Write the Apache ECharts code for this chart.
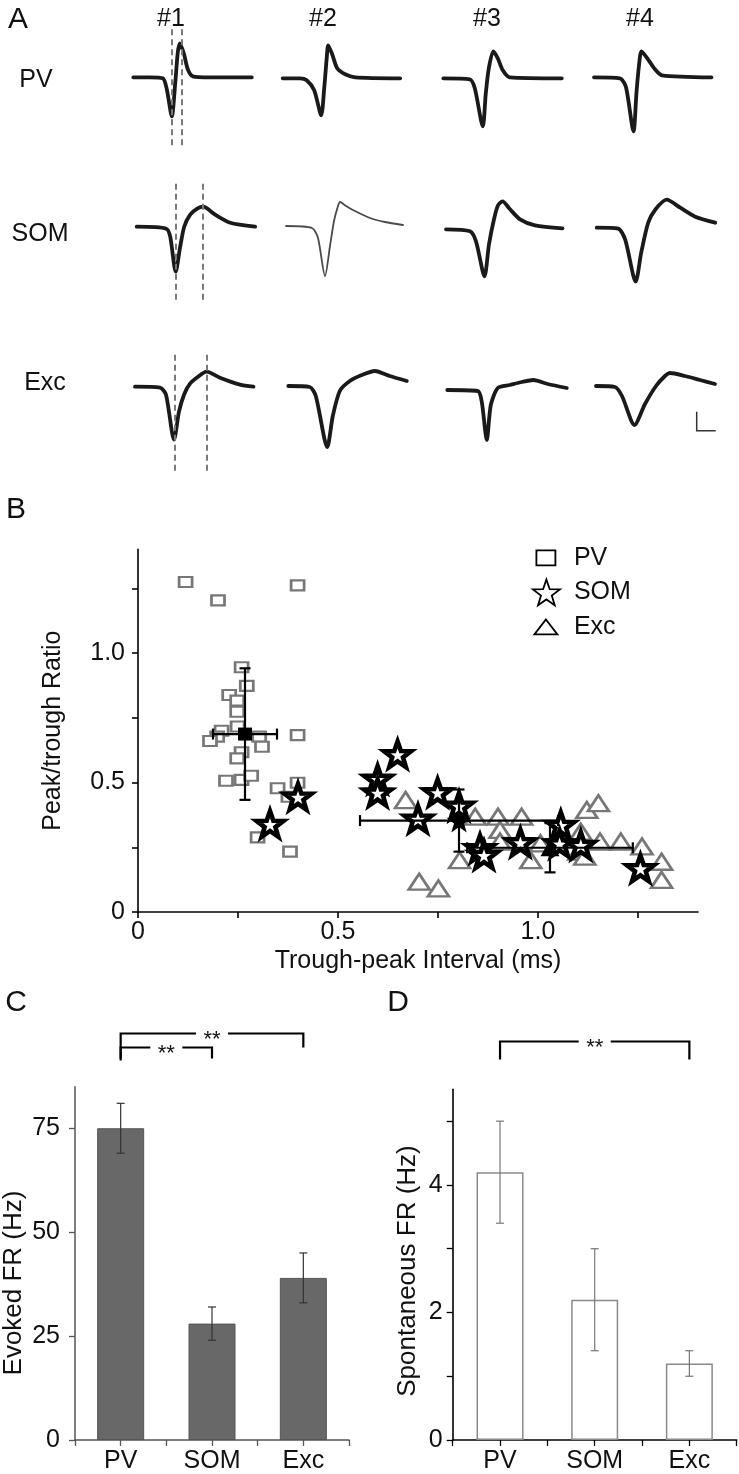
<!DOCTYPE html>
<html><head><meta charset="utf-8">
<script src="https://cdn.jsdelivr.net/npm/echarts@6/dist/echarts.min.js"></script>
<style>html,body{margin:0;padding:0;background:#fff}#c{width:739px;height:1474px}</style>
</head><body><div id="c"></div>
<script>
// ================= DATA =================
// Panel A: waveform key samples [time (ms), amplitude (a.u.)]
const waveColumns = ['#1', '#2', '#3', '#4'];
const waveRows = ['PV', 'SOM', 'Exc'];
const wavePV1 = [[0,0],[0.33,0],[0.59,-1],[0.67,-12],[0.77,-39],[0.84,-5],[0.89,25],[0.93,34],[1.01,24],[1.09,8],[1.19,1],[1.53,0],[2.37,0]];
const wavePV2 = [[0,0],[0.35,0],[0.48,-2],[0.63,-12],[0.77,-37],[0.83,-10],[0.88,20],[0.91,33],[0.99,24],[1.09,10],[1.25,4],[1.45,1],[2.35,0]];
const wavePV3 = [[0,0],[0.53,-1],[0.63,-10],[0.79,-48],[0.85,-15],[0.91,10],[1.0,27],[1.09,20],[1.19,8],[1.33,1],[2.37,0]];
const wavePV4 = [[0,0],[0.52,-1],[0.64,-10],[0.79,-54],[0.85,-15],[0.9,12],[0.95,26],[1.08,18],[1.22,8],[1.36,2],[2.35,0]];
const waveSOM1 = [[0,0],[0.59,-2],[0.67,-10],[0.78,-45],[0.87,-20],[0.95,0],[1.07,12],[1.21,18],[1.33,20],[1.57,12],[1.87,4],[2.37,0]];
const waveSOM2 = [[0,0],[0.52,-2],[0.64,-12],[0.78,-50],[0.88,-20],[0.96,5],[1.04,20],[1.08,24],[1.2,20],[1.34,16],[1.68,8],[1.98,4],[2.34,1]];
const waveSOM3 = [[0,0],[0.48,-2],[0.6,-12],[0.77,-47],[0.86,-15],[0.96,10],[1.04,24],[1.13,28],[1.28,20],[1.48,10],[1.78,4],[2.33,1]];
const waveSOM4 = [[0,0],[0.43,-1],[0.57,-12],[0.78,-54],[0.89,-25],[1.03,5],[1.17,18],[1.4,28],[1.67,20],[1.97,11],[2.37,5]];
const waveExc1 = [[0,0],[0.5,-1],[0.62,-8],[0.78,-53],[0.88,-25],[0.98,-8],[1.1,3],[1.26,10],[1.43,15],[1.7,9],[2.1,2],[2.37,0]];
const waveExc2 = [[0,0],[0.43,-1],[0.55,-10],[0.78,-61],[0.89,-30],[1.03,-5],[1.23,5],[1.47,11],[1.73,15],[2.03,10],[2.37,5]];
const waveExc3 = [[0,0],[0.61,-1],[0.69,-12],[0.79,-50],[0.87,-15],[1.01,2],[1.25,5],[1.49,8],[1.72,10],[2.01,6],[2.39,2]];
const waveExc4 = [[0,0],[0.38,-1],[0.52,-10],[0.77,-39],[0.98,-18],[1.2,0],[1.38,10],[1.48,13],[1.78,10],[2.08,6],[2.38,2]];
// dashed markers on cell #1: trough/peak times (ms) and vertical extent (a.u.)
const dashTimes = [[0.77, 0.96], [0.79, 1.33], [0.79, 1.43]];
const dashRange = [[-68, 50], [-73, 44], [-84, 34]];

// Panel B: scatter (trough-peak interval ms, peak/trough ratio)
const pvX = [0.119,0.20,0.399,0.259,0.272,0.228,0.248,0.248,0.249,0.209,0.198,0.18,0.303,0.31,0.399,0.259,0.248,0.22,0.259,0.283,0.349,0.399,0.376,0.299,0.38];
const pvY = [1.274,1.203,1.261,0.945,0.873,0.838,0.816,0.773,0.716,0.70,0.677,0.66,0.677,0.638,0.683,0.617,0.593,0.507,0.51,0.526,0.478,0.499,0.445,0.288,0.233];
const somX = [0.33,0.40,0.599,0.599,0.649,0.749,0.70,0.8025,0.855,0.865,0.956,1.057,1.054,1.107,1.256];
const somY = [0.34,0.445,0.514,0.461,0.609,0.462,0.36,0.41,0.246,0.22,0.269,0.336,0.265,0.259,0.169];
const excX = [0.669,1.122,1.151,0.843,0.90,0.959,0.905,0.905,1.006,0.982,0.804,1.107,1.102,1.117,1.155,1.207,1.26,1.309,1.309,0.703,0.751];
const excY = [0.432,0.394,0.42,0.368,0.368,0.368,0.317,0.272,0.265,0.2,0.2,0.31,0.233,0.214,0.272,0.272,0.253,0.194,0.124,0.117,0.091];
const meanX = [0.2675, 0.8025, 1.03];
const meanY = [0.687, 0.353, 0.248];
const meanXErr = [0.08, 0.2475, 0.207];
const meanYErr = [0.254, 0.12, 0.095];
const xTicksB = [0, 0.25, 0.5, 0.75, 1.0, 1.25];
const xLabelsB = [0, 0.5, 1.0];
const yTicksB = [0, 0.25, 0.5, 0.75, 1.0, 1.25];
const yLabelsB = [0, 0.5, 1.0];

// Panels C & D
const categories = ['PV', 'SOM', 'Exc'];
const evokedFR = [75, 28, 39];
const evokedErr = [6, 4, 6];
const spontFR = [4.2, 2.2, 1.2];
const spontErr = [0.8, 0.8, 0.2];
const yTicksC = [0, 25, 50, 75];
const yTicksD = [0, 1, 2, 3, 4, 5];
const yLabelsD = [0, 2, 4];
const sigC = [[0, 2, '**'], [0, 1, '**']];
const sigD = [[0, 2, '**']];

// ================= LAYOUT =================
const FONT = '"Liberation Sans", Arial, Helvetica, sans-serif';
const waves = [[wavePV1, wavePV2, wavePV3, wavePV4], [waveSOM1, waveSOM2, waveSOM3, waveSOM4], [waveExc1, waveExc2, waveExc3, waveExc4]];
const waveLeft = [[133.3, 282.7, 443.3, 594], [136.7, 286, 446, 596.7], [135, 288.3, 447.3, 596]];
const waveBase = [[77.3, 78.3, 78.3, 77.3], [226.7, 226, 229.3, 227.7], [386.7, 386, 390, 386]];
const STAR = 'path://M50,0L61.76,33.82L97.55,34.55L69.02,56.18L79.39,90.45L50,70L20.61,90.45L30.98,56.18L2.45,34.55L38.24,33.82Z';
function starPts(cx, cy, R, r) {
  const p = [];
  for (let i = 0; i < 10; i++) {
    const a = -Math.PI / 2 + i * Math.PI / 5, rr = i % 2 ? r : R;
    p.push((cx + rr * Math.cos(a)).toFixed(2) + ',' + (cy + rr * Math.sin(a)).toFixed(2));
  }
  return 'M' + p.join('L') + 'Z';
}
// legend icons in a 36x28 box (icon drawn on the left part)
const LW = 36, LH = 28, BOX = 'M0,0M' + LW + ',' + LH;
const ICON_RECT = 'path://' + BOX + 'M3.5,6.5L22.5,6.5L22.5,21.5L3.5,21.5Z';
const ICON_STAR = 'path://' + BOX + starPts(13, 15.4, 14.5, 5.8);
const ICON_TRI = 'path://' + BOX + 'M1.5,21.5L24.5,21.5L13,6.5Z';

const grid = [], xAxis = [], yAxis = [], series = [];
let gi = 0;
for (let r = 0; r < 3; r++) {
  for (let c = 0; c < 4; c++) {
    grid.push({ left: waveLeft[r][c], top: waveBase[r][c] - 55, width: 120, height: 145 });
    xAxis.push({ gridIndex: gi, type: 'value', min: 0, max: 2.4, show: false });
    yAxis.push({ gridIndex: gi, type: 'value', min: -90, max: 55, show: false });
    const thin = (r === 1 && c === 1);
    const s = {
      type: 'line', xAxisIndex: gi, yAxisIndex: gi, data: waves[r][c],
      showSymbol: false, smooth: 0.25, silent: true, animation: false,
      lineStyle: { color: thin ? '#4a4a4a' : '#1a1a1a', width: thin ? 1.8 : 3.8, cap: 'round', join: 'round' }
    };
    if (c === 0) {
      s.markLine = {
        symbol: 'none', silent: true, animation: false, label: { show: false },
        lineStyle: { type: [6, 4], color: '#7a7a7a', width: 2 },
        data: dashTimes[r].map(t => [{ coord: [t, dashRange[r][0]] }, { coord: [t, dashRange[r][1]] }])
      };
    }
    series.push(s);
    gi++;
  }
}

// Panel B
const GB = 12;
grid.push({ left: 138, top: 549.4, width: 560, height: 362.6 });
const axLine = (col, w) => ({ show: true, onZero: false, lineStyle: { color: col, width: w } });
xAxis.push({
  gridIndex: GB, type: 'value', min: 0, max: 1.4, splitLine: { show: false },
  axisLine: axLine('#000', 1.6),
  axisTick: { show: true, length: 6, customValues: xTicksB, lineStyle: { color: '#000', width: 1.6 } },
  axisLabel: { customValues: xLabelsB, formatter: v => v === 0 ? '0' : v.toFixed(1), fontSize: 25, color: '#111', fontFamily: FONT, margin: 8 },
  name: 'Trough-peak Interval (ms)', nameLocation: 'middle', nameGap: 37,
  nameTextStyle: { fontSize: 25, color: '#111', fontFamily: FONT }
});
yAxis.push({
  gridIndex: GB, type: 'value', min: 0, max: 1.4, splitLine: { show: false },
  axisLine: axLine('#000', 1.6),
  axisTick: { show: true, length: 6, customValues: yTicksB, lineStyle: { color: '#000', width: 1.6 } },
  axisLabel: { customValues: yLabelsB, formatter: v => v === 0 ? '0' : v.toFixed(1), fontSize: 25, color: '#111', fontFamily: FONT, margin: 13 },
  name: 'Peak/trough Ratio', nameLocation: 'middle', nameGap: 72,
  nameTextStyle: { fontSize: 25, color: '#111', fontFamily: FONT }
});
series.push({
  name: 'PV', type: 'scatter', xAxisIndex: GB, yAxisIndex: GB, z: 2, animation: false,
  data: pvX.map((x, i) => [x, pvY[i]]), symbol: 'rect', symbolSize: [13, 10],
  itemStyle: { color: '#fff', borderColor: '#777', borderWidth: 2.4, opacity: 1 }
});
series.push({
  name: 'Exc', type: 'scatter', xAxisIndex: GB, yAxisIndex: GB, z: 3, animation: false,
  data: excX.map((x, i) => [x, excY[i]]), symbol: 'triangle', symbolSize: [21, 16],
  itemStyle: { color: '#fff', borderColor: '#777', borderWidth: 2.6, opacity: 1 }
});
series.push({
  name: 'SOM', type: 'scatter', xAxisIndex: GB, yAxisIndex: GB, z: 4, animation: false,
  data: somX.map((x, i) => [x, somY[i]]), symbol: STAR, symbolSize: 27, symbolKeepAspect: true,
  itemStyle: { color: '#fff', borderColor: '#000', borderWidth: 4.6, opacity: 1 }
});
series.push({
  name: 'errB', type: 'custom', xAxisIndex: GB, yAxisIndex: GB, z: 5, animation: false, silent: true,
  data: meanX.map((x, i) => [x, meanY[i], meanXErr[i], meanYErr[i]]),
  renderItem: (p, api) => {
    const x = api.value(0), y = api.value(1), xe = api.value(2), ye = api.value(3);
    const l = api.coord([x - xe, y]), r = api.coord([x + xe, y]);
    const t = api.coord([x, y + ye]), b = api.coord([x, y - ye]);
    const st = { stroke: '#000', lineWidth: 2.2 };
    const L = (a, bb) => ({ type: 'line', shape: { x1: a[0], y1: a[1], x2: bb[0], y2: bb[1] }, style: st });
    const cap = 5.5;
    return { type: 'group', children: [
      L(l, r), L([l[0], l[1] - cap], [l[0], l[1] + cap]), L([r[0], r[1] - cap], [r[0], r[1] + cap]),
      L(t, b), L([t[0] - cap, t[1]], [t[0] + cap, t[1]]), L([b[0] - cap, b[1]], [b[0] + cap, b[1]])
    ] };
  }
});
const meanSymbols = ['rect', STAR, 'triangle'];
const meanSizes = [[14, 13], 25, [19, 17]];
series.push({
  name: 'mean', type: 'scatter', xAxisIndex: GB, yAxisIndex: GB, z: 6, animation: false,
  symbolKeepAspect: true,
  data: meanX.map((x, i) => ({ value: [x, meanY[i]], symbol: meanSymbols[i], symbolSize: meanSizes[i] })),
  itemStyle: { color: '#000', opacity: 1 }
});

// Panel C
const GC = 13;
grid.push({ left: 75, top: 1086.7, width: 274, height: 353.3 });
const catTicks = [0, 0.5, 1, 1.5, 2, 2.5, 3];
const catLabels = [0.5, 1.5, 2.5];
xAxis.push({
  gridIndex: GC, type: 'value', min: 0, max: 3, splitLine: { show: false },
  axisLine: axLine('#555', 1.5),
  axisTick: { show: true, length: 6, customValues: catTicks, lineStyle: { color: '#555', width: 1.3 } },
  axisLabel: { customValues: catLabels, formatter: v => categories[Math.floor(v)], fontSize: 25, color: '#111', fontFamily: FONT, margin: 9 }
});
yAxis.push({
  gridIndex: GC, type: 'value', min: 0, max: 85, splitLine: { show: false },
  axisLine: axLine('#555', 1.5),
  axisTick: { show: true, length: 6, customValues: yTicksC, lineStyle: { color: '#555', width: 1.3 } },
  axisLabel: { customValues: yTicksC, fontSize: 25, color: '#111', fontFamily: FONT, margin: 15 }
});
series.push({
  name: 'evoked', type: 'bar', xAxisIndex: GC, yAxisIndex: GC, barWidth: 47, animation: false,
  data: categories.map((c, i) => [i + 0.5, evokedFR[i]]),
  itemStyle: { color: '#686868', borderColor: '#555', borderWidth: 1 }
});
const errRender = (col) => (p, api) => {
  const x = api.value(0), v = api.value(1), e = api.value(2);
  const t = api.coord([x, v + e]), b = api.coord([x, v - e]);
  const st = { stroke: col, lineWidth: 1.2 };
  const cap = 4;
  return { type: 'group', children: [
    { type: 'line', shape: { x1: t[0], y1: t[1], x2: b[0], y2: b[1] }, style: st },
    { type: 'line', shape: { x1: t[0] - cap, y1: t[1], x2: t[0] + cap, y2: t[1] }, style: st },
    { type: 'line', shape: { x1: b[0] - cap, y1: b[1], x2: b[0] + cap, y2: b[1] }, style: st }
  ] };
};
series.push({
  name: 'evokedErr', type: 'custom', xAxisIndex: GC, yAxisIndex: GC, z: 5, animation: false, silent: true,
  data: categories.map((c, i) => [i + 0.5, evokedFR[i], evokedErr[i]]), renderItem: errRender('#333')
});

// Panel D
const GD = 14;
grid.push({ left: 452.7, top: 1089.3, width: 284, height: 351.4 });
xAxis.push({
  gridIndex: GD, type: 'value', min: 0, max: 3, splitLine: { show: false },
  axisLine: axLine('#000', 1.6),
  axisTick: { show: true, length: 6, customValues: catTicks, lineStyle: { color: '#000', width: 1.3 } },
  axisLabel: { customValues: catLabels, formatter: v => categories[Math.floor(v)], fontSize: 25, color: '#111', fontFamily: FONT, margin: 9 }
});
yAxis.push({
  gridIndex: GD, type: 'value', min: 0, max: 5.5, splitLine: { show: false },
  axisLine: axLine('#000', 1.6),
  axisTick: { show: true, length: 6, customValues: yTicksD, lineStyle: { color: '#000', width: 1.3 } },
  axisLabel: { customValues: yLabelsD, fontSize: 25, color: '#111', fontFamily: FONT, margin: 10 }
});
series.push({
  name: 'spont', type: 'bar', xAxisIndex: GD, yAxisIndex: GD, barWidth: 47, animation: false,
  data: categories.map((c, i) => [i + 0.5, spontFR[i]]),
  itemStyle: { color: '#fff', borderColor: '#8a8a8a', borderWidth: 1.5 }
});
series.push({
  name: 'spontErr', type: 'custom', xAxisIndex: GD, yAxisIndex: GD, z: 5, animation: false, silent: true,
  data: categories.map((c, i) => [i + 0.5, spontFR[i], spontErr[i]]), renderItem: errRender('#777')
});

const chart = echarts.init(document.getElementById('c'), null, { renderer: 'canvas' });
chart.setOption({
  animation: false,
  textStyle: { fontFamily: FONT },
  grid, xAxis, yAxis, series,
  legend: {
    show: true, orient: 'vertical', left: 527, top: 538, itemGap: 5, itemWidth: LW, itemHeight: LH,
    textStyle: { fontSize: 25, color: '#111', fontFamily: FONT },
    data: [
      { name: 'PV', icon: ICON_RECT, itemStyle: { color: '#fff', borderColor: '#000', borderWidth: 1.8, opacity: 1 } },
      { name: 'SOM', icon: ICON_STAR, itemStyle: { color: '#fff', borderColor: '#000', borderWidth: 1.8, opacity: 1 } },
      { name: 'Exc', icon: ICON_TRI, itemStyle: { color: '#fff', borderColor: '#000', borderWidth: 1.8, opacity: 1 } }
    ],
    selectedMode: false
  }
});

// ============ annotations ============
const g = [];
const txt = (x, y, s, size, rot) => g.push({ type: 'text', x, y, rotation: rot || 0, style: { text: s, font: size + 'px ' + FONT, fill: '#111', textAlign: 'center', textVerticalAlign: 'middle' }, silent: true });
txt(18, 20, 'A', 30); txt(16, 510, 'B', 30); txt(16, 1003, 'C', 30); txt(398, 1003, 'D', 30);
const colX = [171, 323, 487, 640];
waveColumns.forEach((s, i) => txt(colX[i], 19, s, 25));
const rowY = [80, 234, 383];
const rowX = [36, 40, 45];
waveRows.forEach((s, i) => txt(rowX[i], rowY[i], s, 25));
// axis titles of C and D
txt(14, 1283, 'Evoked FR (Hz)', 26, Math.PI / 2);
txt(408, 1271, 'Spontaneous FR (Hz)', 26, Math.PI / 2);
// scale bar
g.push({ type: 'polyline', shape: { points: [[696.7, 411.7], [696.7, 430.7], [715.7, 430.7]] }, style: { stroke: '#333', lineWidth: 1.5, fill: null }, silent: true });
// significance brackets
function bracket(gridIndex, pair, level, drop, leftDrop) {
  const a = chart.convertToPixel({ gridIndex }, [pair[0] + 0.5, level]);
  const b = chart.convertToPixel({ gridIndex }, [pair[1] + 0.5, level]);
  const y = Math.round(a[1]) + 0.5, xm = (a[0] + b[0]) / 2, gap = 16;
  const st = { stroke: '#000', lineWidth: 2.2 };
  g.push({ type: 'polyline', shape: { points: [[a[0], y + leftDrop], [a[0], y], [xm - gap, y]] }, style: Object.assign({ fill: null }, st), silent: true });
  g.push({ type: 'polyline', shape: { points: [[xm + gap, y], [b[0], y], [b[0], y + drop]] }, style: Object.assign({ fill: null }, st), silent: true });
  txt(xm, y + 6, pair[2], 22);
}
bracket(GC, sigC[0], 98, 14, 27);
bracket(GC, sigC[1], 94.6, 11, 11);
bracket(GD, sigD[0], 6.25, 18, 18);
chart.setOption({ graphic: { elements: g } });
</script></body></html>
